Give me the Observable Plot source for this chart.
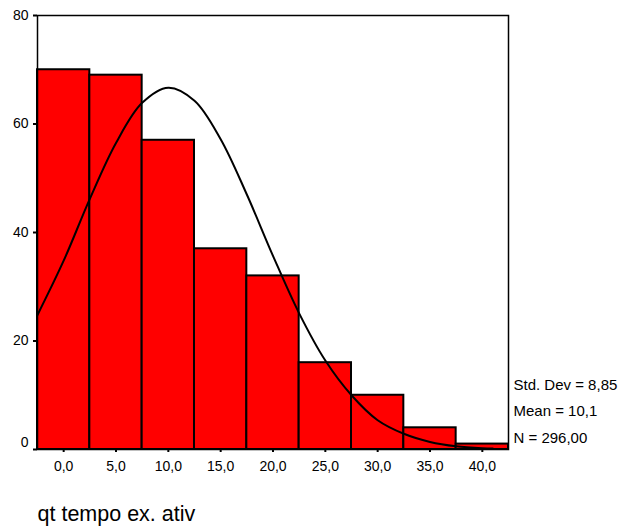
<!DOCTYPE html>
<html>
<head>
<meta charset="utf-8">
<script src="https://cdn.jsdelivr.net/npm/d3@7"></script>
<script src="https://cdn.jsdelivr.net/npm/@observablehq/plot@0.6"></script>
<style>
  html, body { margin: 0; padding: 0; background: #fff; }
  svg { display: block; }
</style>
</head>
<body>
<div id="chart"></div>
<script>
// Histogram bins (centers) and counts
const binCenters = [0, 5, 10, 15, 20, 25, 30, 35, 40];
const counts = [70, 69, 57, 37, 32, 16, 10, 4, 1];
const binWidth = 5;

// Normal curve points
const curveX = [-2.5, 0, 2.5, 5, 7.5, 10, 12.5, 15, 17.5, 20, 22.5, 25, 27.5, 30, 32.5, 35, 37.5, 40, 41];
const curveY = [24.8, 34.8, 46.2, 56.5, 63.9, 66.7, 64.3, 57.2, 47.0, 35.7, 25.1, 16.4, 10.0, 5.4, 2.9, 1.4, 0.6, 0.25, 0.2];

const xTicks = [0, 5, 10, 15, 20, 25, 30, 35, 40];
const xTickLabels = ["0,0", "5,0", "10,0", "15,0", "20,0", "25,0", "30,0", "35,0", "40,0"];
const yTicks = [0, 20, 40, 60, 80];

const statsLines = ["Std. Dev = 8,85", "Mean = 10,1", "N = 296,00"];
const xTitle = "qt tempo ex. ativ";

const bars = binCenters.map((c, i) => ({x1: c - binWidth / 2, x2: c + binWidth / 2, count: counts[i]}));
const curve = curveX.map((x, i) => ({x, y: curveY[i]}));

const chart = Plot.plot({
  width: 619,
  height: 527,
  marginLeft: 37,
  marginRight: 111,
  marginTop: 15,
  marginBottom: 78,
  style: {fontFamily: "'Liberation Sans', Arial, sans-serif", fontSize: "14px", color: "#000", background: "#fff"},
  x: {domain: [-2.5, 42.5]},
  y: {domain: [0, 80]},
  marks: [
    Plot.rectY(bars, {x1: "x1", x2: "x2", y: "count", fill: "#ff0000", stroke: "#000", strokeWidth: 2}),
    Plot.line(curve, {x: "x", y: "y", stroke: "#000", strokeWidth: 2, curve: "catmull-rom"}),
    Plot.frame({stroke: "#000", strokeWidth: 1.5}),
    Plot.axisY(yTicks, {anchor: "left", tickSize: 4, tickPadding: 5, tickFormat: d => d === 0 ? "" : String(d), label: null, fontSize: 14, strokeWidth: 2}),
    Plot.text(yTicks.filter(d => d === 0), {y: d => d, frameAnchor: "left", textAnchor: "end", dx: -9, dy: -7, fontSize: 14}),
    Plot.axisX(xTicks, {anchor: "bottom", tickSize: 3, tickPadding: 9, tickFormat: (d, i) => xTickLabels[i], label: null, fontSize: 14, strokeWidth: 2}),
    Plot.text([statsLines.join("\n")], {frameAnchor: "bottom-right", textAnchor: "start", lineAnchor: "bottom", dx: 5, dy: -7, lineHeight: 1.75, fontSize: 15}),
    Plot.text([xTitle], {frameAnchor: "bottom-left", textAnchor: "start", lineAnchor: "middle", dy: 65, fontSize: 21.5})
  ]
});
document.getElementById("chart").appendChild(chart);
</script>
</body>
</html>
